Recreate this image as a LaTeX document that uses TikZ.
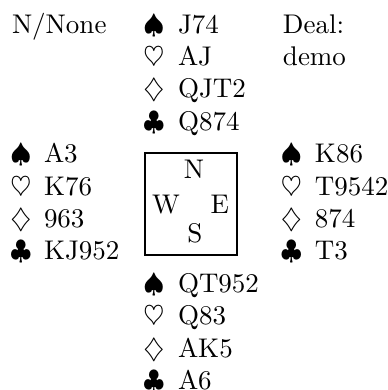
\documentclass[tikz,border=0pt]{standalone}
\begin{document}
\begin{tikzpicture}[x=0.37037pt,y=-0.37037pt,
  every node/.style={inner sep=0pt,outer sep=0pt,font=\normalsize},
  suitsym/.style={anchor=base west},
  holding/.style={anchor=base west},
  label/.style={anchor=base west},
  compass/.style={anchor=base},
  tablebox/.style={draw,line width=0.45pt}]
\useasboundingbox (0,0) rectangle (388,390);

% dealer / vulnerability and deal label
\node[label] (dv) at (12,33) {N/None};
\node[label] (dl1) at (283,33) {Deal:};
\node[label] (dl2) at (283,65.4) {demo};

% North
\node[suitsym] (ns) at (143.5,33)    {$\spadesuit$};
\node[suitsym] (nh) at (143.5,65.4)  {$\heartsuit$};
\node[suitsym] (nd) at (143.5,97.8)  {$\diamondsuit$};
\node[suitsym] (nc) at (143.5,130.2) {$\clubsuit$};
\node[holding] (nsc) at (178,33)    {J74};
\node[holding] (nhc) at (178,65.4)  {AJ};
\node[holding] (ndc) at (178,97.8)  {QJT2};
\node[holding] (ncc) at (178,130.2) {Q874};

% West
\node[suitsym] (ws) at (10.5,162.6) {$\spadesuit$};
\node[suitsym] (wh) at (10.5,195)   {$\heartsuit$};
\node[suitsym] (wd) at (10.5,227.4) {$\diamondsuit$};
\node[suitsym] (wc) at (10.5,259.8) {$\clubsuit$};
\node[holding] (wsc) at (44,162.6) {A3};
\node[holding] (whc) at (44,195)   {K76};
\node[holding] (wdc) at (44,227.4) {963};
\node[holding] (wcc) at (44,259.8) {KJ952};

% East
\node[suitsym] (es) at (281,162.6) {$\spadesuit$};
\node[suitsym] (eh) at (281,195)   {$\heartsuit$};
\node[suitsym] (ed) at (281,227.4) {$\diamondsuit$};
\node[suitsym] (ec) at (281,259.8) {$\clubsuit$};
\node[holding] (esc) at (315,162.6) {K86};
\node[holding] (ehc) at (315,195)   {T9542};
\node[holding] (edc) at (315,227.4) {874};
\node[holding] (ecc) at (315,259.8) {T3};

% South
\node[suitsym] (ss) at (143.5,292.2) {$\spadesuit$};
\node[suitsym] (sh) at (143.5,324.6) {$\heartsuit$};
\node[suitsym] (sd) at (143.5,357)   {$\diamondsuit$};
\node[suitsym] (sc) at (143.5,389.4) {$\clubsuit$};
\node[holding] (ssc) at (178,292.2) {QT952};
\node[holding] (shc) at (178,324.6) {Q83};
\node[holding] (sdc) at (178,357)   {AK5};
\node[holding] (scc) at (178,389.4) {A6};

% the table with compass points
\draw[tablebox] (145,153) rectangle (237,255);
\node[compass] (cn) at (194,178) {N};
\node[compass,anchor=base west] (cw) at (152,213) {W};
\node[compass,anchor=base east] (ce) at (229,213) {E};
\node[compass] (cs) at (195,242) {S};
\end{tikzpicture}
\end{document}
